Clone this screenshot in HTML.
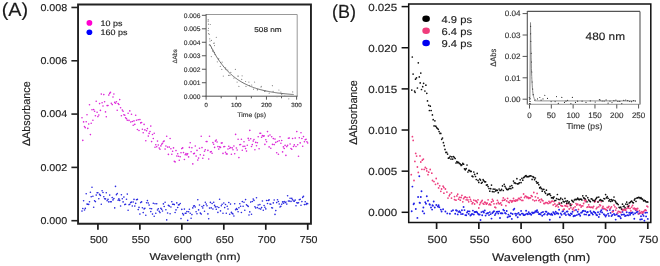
<!DOCTYPE html>
<html><head><meta charset="utf-8"><style>
html,body{margin:0;padding:0;background:#fff;overflow:hidden;width:660px;height:266px;}
svg{display:block;will-change:transform;}
text{font-family:"Liberation Sans", sans-serif;text-rendering:geometricPrecision;}
</style></head><body>
<svg width="660" height="266" viewBox="0 0 660 266">
<rect width="660" height="266" fill="#fff"/>
<text x="1.70" y="15.90" font-size="19.0" fill="#1a1a1a" stroke="#1a1a1a" stroke-width="0.15" textLength="26.40" lengthAdjust="spacingAndGlyphs" >(A)</text>
<path d="M78.05 4.45 H310.95 V223.7 H78.05 Z" fill="none" stroke="#222" stroke-width="1.9"/>
<line x1="71.40" y1="220.70" x2="78.00" y2="220.70" stroke="#222" stroke-width="1.6"/>
<text x="67.30" y="224.00" font-size="9.9" fill="#222" stroke="#222" stroke-width="0.15" text-anchor="end" textLength="26.90" lengthAdjust="spacingAndGlyphs" >0.000</text>
<line x1="71.40" y1="167.39" x2="78.00" y2="167.39" stroke="#222" stroke-width="1.6"/>
<text x="67.30" y="170.69" font-size="9.9" fill="#222" stroke="#222" stroke-width="0.15" text-anchor="end" textLength="26.90" lengthAdjust="spacingAndGlyphs" >0.002</text>
<line x1="71.40" y1="114.08" x2="78.00" y2="114.08" stroke="#222" stroke-width="1.6"/>
<text x="67.30" y="117.38" font-size="9.9" fill="#222" stroke="#222" stroke-width="0.15" text-anchor="end" textLength="26.90" lengthAdjust="spacingAndGlyphs" >0.004</text>
<line x1="71.40" y1="60.77" x2="78.00" y2="60.77" stroke="#222" stroke-width="1.6"/>
<text x="67.30" y="64.07" font-size="9.9" fill="#222" stroke="#222" stroke-width="0.15" text-anchor="end" textLength="26.90" lengthAdjust="spacingAndGlyphs" >0.006</text>
<line x1="71.40" y1="7.46" x2="78.00" y2="7.46" stroke="#222" stroke-width="1.6"/>
<text x="67.30" y="10.76" font-size="9.9" fill="#222" stroke="#222" stroke-width="0.15" text-anchor="end" textLength="26.90" lengthAdjust="spacingAndGlyphs" >0.008</text>
<line x1="97.92" y1="223.70" x2="97.92" y2="229.80" stroke="#1a1a1a" stroke-width="1.7"/>
<text x="98.82" y="243.00" font-size="10.1" fill="#222" stroke="#222" stroke-width="0.15" text-anchor="middle" textLength="17.80" lengthAdjust="spacingAndGlyphs" >500</text>
<line x1="139.88" y1="223.70" x2="139.88" y2="229.80" stroke="#1a1a1a" stroke-width="1.7"/>
<text x="140.78" y="243.00" font-size="10.1" fill="#222" stroke="#222" stroke-width="0.15" text-anchor="middle" textLength="17.80" lengthAdjust="spacingAndGlyphs" >550</text>
<line x1="181.85" y1="223.70" x2="181.85" y2="229.80" stroke="#1a1a1a" stroke-width="1.7"/>
<text x="182.75" y="243.00" font-size="10.1" fill="#222" stroke="#222" stroke-width="0.15" text-anchor="middle" textLength="17.80" lengthAdjust="spacingAndGlyphs" >600</text>
<line x1="223.81" y1="223.70" x2="223.81" y2="229.80" stroke="#1a1a1a" stroke-width="1.7"/>
<text x="224.71" y="243.00" font-size="10.1" fill="#222" stroke="#222" stroke-width="0.15" text-anchor="middle" textLength="17.80" lengthAdjust="spacingAndGlyphs" >650</text>
<line x1="265.78" y1="223.70" x2="265.78" y2="229.80" stroke="#1a1a1a" stroke-width="1.7"/>
<text x="266.68" y="243.00" font-size="10.1" fill="#222" stroke="#222" stroke-width="0.15" text-anchor="middle" textLength="17.80" lengthAdjust="spacingAndGlyphs" >700</text>
<line x1="307.74" y1="223.70" x2="307.74" y2="229.80" stroke="#1a1a1a" stroke-width="1.7"/>
<text x="308.64" y="243.00" font-size="10.1" fill="#222" stroke="#222" stroke-width="0.15" text-anchor="middle" textLength="17.80" lengthAdjust="spacingAndGlyphs" >750</text>
<text x="149.50" y="259.50" font-size="10.0" fill="#222" stroke="#222" stroke-width="0.15" textLength="91.00" lengthAdjust="spacingAndGlyphs" >Wavelength (nm)</text>
<text x="30.30" y="146.10" font-size="11.0" fill="#222" stroke="#222" stroke-width="0.15" textLength="64.80" lengthAdjust="spacingAndGlyphs" transform="rotate(-90 30.30 146.10)" >ΔAbsorbance</text>
<ellipse cx="89.4" cy="22.9" rx="2.9" ry="2.8" fill="#ff00d0"/>
<ellipse cx="89.4" cy="32.3" rx="2.9" ry="2.8" fill="#0000ff"/>
<text x="100.60" y="25.90" font-size="7.9" fill="#222" stroke="#222" stroke-width="0.15" textLength="21.90" lengthAdjust="spacingAndGlyphs" >10 ps</text>
<text x="100.60" y="34.70" font-size="7.9" fill="#222" stroke="#222" stroke-width="0.15" textLength="27.00" lengthAdjust="spacingAndGlyphs" >160 ps</text>
<path d="M82.0 117.7h0M82.8 140.4h0M83.6 121.9h0M84.5 126.6h0M85.3 127.7h0M86.2 121.7h0M87.0 114.8h0M87.8 128.4h0M88.7 124.0h0M89.5 104.7h0M90.4 134.6h0M91.2 123.2h0M92.0 109.8h0M92.9 120.2h0M93.7 109.6h0M94.6 111.2h0M95.4 115.8h0M96.2 101.2h0M97.1 112.3h0M97.9 116.6h0M98.8 115.0h0M99.6 103.6h0M100.4 110.4h0M101.3 94.1h0M102.1 102.8h0M103.0 106.0h0M103.8 94.6h0M104.6 101.7h0M105.5 111.9h0M106.3 116.7h0M107.1 105.6h0M108.0 105.5h0M108.8 95.1h0M109.7 93.4h0M110.5 92.3h0M111.3 103.3h0M112.2 104.6h0M113.0 97.0h0M113.9 94.0h0M114.7 102.4h0M115.5 103.3h0M116.4 101.7h0M117.2 110.2h0M118.1 103.5h0M118.9 104.5h0M119.7 99.6h0M120.6 107.7h0M121.4 115.7h0M122.3 110.0h0M123.1 111.3h0M123.9 114.7h0M124.8 115.2h0M125.6 117.7h0M126.5 118.7h0M127.3 120.2h0M128.1 113.3h0M129.0 120.4h0M129.8 110.9h0M130.7 122.0h0M131.5 114.2h0M132.3 121.5h0M133.2 125.2h0M134.0 120.9h0M134.8 124.4h0M135.7 115.3h0M136.5 120.3h0M137.4 129.5h0M138.2 119.8h0M139.0 130.5h0M139.9 119.6h0M140.7 122.9h0M141.6 122.5h0M142.4 129.2h0M143.2 132.8h0M144.1 124.4h0M144.9 129.9h0M145.8 140.8h0M146.6 130.7h0M147.4 128.6h0M148.3 136.1h0M149.1 133.4h0M150.0 131.5h0M150.8 126.1h0M151.6 141.6h0M152.5 134.5h0M153.3 138.5h0M154.2 133.2h0M155.0 147.3h0M155.8 144.8h0M156.7 146.7h0M157.5 141.1h0M158.3 145.0h0M159.2 148.0h0M160.0 149.3h0M160.9 145.9h0M161.7 144.3h0M162.5 143.2h0M163.4 141.6h0M164.2 141.0h0M165.1 149.1h0M165.9 146.0h0M166.7 136.3h0M167.6 147.1h0M168.4 154.4h0M169.3 147.1h0M170.1 138.5h0M170.9 148.7h0M171.8 154.2h0M172.6 151.2h0M173.5 147.9h0M174.3 161.3h0M175.1 161.9h0M176.0 150.6h0M176.8 156.0h0M177.7 153.8h0M178.5 156.2h0M179.3 160.2h0M180.2 156.7h0M181.0 152.7h0M181.8 148.6h0M182.7 147.9h0M183.5 152.6h0M184.4 159.5h0M185.2 154.8h0M186.0 153.5h0M186.9 154.9h0M187.7 153.8h0M188.6 156.9h0M189.4 147.4h0M190.2 142.7h0M191.1 151.8h0M191.9 147.8h0M192.8 163.9h0M193.6 153.8h0M194.4 153.4h0M195.3 146.0h0M196.1 156.1h0M197.0 150.4h0M197.8 160.1h0M198.6 158.1h0M199.5 148.3h0M200.3 154.7h0M201.2 136.2h0M202.0 147.6h0M202.8 158.3h0M203.7 155.2h0M204.5 151.3h0M205.3 149.7h0M206.2 141.5h0M207.0 141.6h0M207.9 150.4h0M208.7 159.0h0M209.5 136.2h0M210.4 152.0h0M211.2 151.6h0M212.1 153.3h0M212.9 142.6h0M213.7 144.3h0M214.6 147.4h0M215.4 141.1h0M216.3 140.0h0M217.1 142.0h0M217.9 146.6h0M218.8 149.1h0M219.6 146.9h0M220.5 147.4h0M221.3 143.1h0M222.1 142.9h0M223.0 153.4h0M223.8 146.7h0M224.7 146.5h0M225.5 152.2h0M226.3 153.9h0M227.2 154.0h0M228.0 149.0h0M228.8 146.3h0M229.7 148.2h0M230.5 147.5h0M231.4 154.2h0M232.2 147.9h0M233.0 149.8h0M233.9 146.0h0M234.7 153.7h0M235.6 134.4h0M236.4 148.0h0M237.2 150.0h0M238.1 139.2h0M238.9 157.6h0M239.8 144.7h0M240.6 144.5h0M241.4 139.3h0M242.3 150.2h0M243.1 146.4h0M244.0 141.8h0M244.8 146.3h0M245.6 148.6h0M246.5 151.1h0M247.3 145.3h0M248.2 138.4h0M249.0 140.3h0M249.8 130.4h0M250.7 138.7h0M251.5 146.5h0M252.3 144.6h0M253.2 141.1h0M254.0 139.5h0M254.9 149.8h0M255.7 142.4h0M256.5 145.7h0M257.4 142.7h0M258.2 136.7h0M259.1 148.7h0M259.9 133.2h0M260.7 133.3h0M261.6 137.3h0M262.4 135.5h0M263.3 136.3h0M264.1 135.9h0M264.9 144.4h0M265.8 139.7h0M266.6 141.7h0M267.5 131.6h0M268.3 136.1h0M269.1 146.9h0M270.0 135.0h0M270.8 148.3h0M271.7 136.8h0M272.5 144.4h0M273.3 138.6h0M274.2 144.6h0M275.0 139.1h0M275.8 142.4h0M276.7 152.7h0M277.5 141.5h0M278.4 154.3h0M279.2 140.7h0M280.0 136.7h0M280.9 143.2h0M281.7 140.5h0M282.6 151.9h0M283.4 146.9h0M284.2 148.5h0M285.1 145.4h0M285.9 155.4h0M286.8 146.6h0M287.6 145.3h0M288.4 138.3h0M289.3 138.0h0M290.1 144.0h0M291.0 148.5h0M291.8 149.3h0M292.6 138.5h0M293.5 146.5h0M294.3 144.9h0M295.2 138.1h0M296.0 146.5h0M296.8 131.6h0M297.7 144.8h0M298.5 156.2h0M299.3 137.7h0M300.2 142.9h0M301.0 132.7h0M301.9 138.5h0M302.7 146.2h0M303.5 136.6h0M304.4 141.7h0M305.2 139.7h0M306.1 139.2h0M306.9 141.8h0M307.7 143.0h0" stroke="#dc28d8" stroke-width="1.64" stroke-linecap="round" opacity="1.0"/>
<path d="M82.0 211.1h0M82.8 208.5h0M83.6 200.8h0M84.5 210.0h0M85.3 208.4h0M86.2 193.8h0M87.0 204.1h0M87.8 204.2h0M88.7 204.4h0M89.5 201.8h0M90.4 192.2h0M91.2 196.8h0M92.0 187.3h0M92.9 196.3h0M93.7 207.2h0M94.6 200.7h0M95.4 201.6h0M96.2 195.1h0M97.1 192.8h0M97.9 192.7h0M98.8 198.8h0M99.6 194.4h0M100.4 195.4h0M101.3 204.3h0M102.1 190.8h0M103.0 192.5h0M103.8 196.7h0M104.6 198.8h0M105.5 198.9h0M106.3 192.8h0M107.1 200.8h0M108.0 199.4h0M108.8 201.9h0M109.7 195.1h0M110.5 201.7h0M111.3 201.7h0M112.2 197.6h0M113.0 199.9h0M113.9 198.5h0M114.7 207.9h0M115.5 186.4h0M116.4 194.7h0M117.2 193.6h0M118.1 200.2h0M118.9 198.9h0M119.7 200.4h0M120.6 206.0h0M121.4 194.8h0M122.3 198.8h0M123.1 201.9h0M123.9 197.1h0M124.8 204.6h0M125.6 204.3h0M126.5 199.2h0M127.3 194.1h0M128.1 210.2h0M129.0 204.7h0M129.8 204.3h0M130.7 202.6h0M131.5 202.1h0M132.3 206.0h0M133.2 202.0h0M134.0 199.4h0M134.8 206.1h0M135.7 203.4h0M136.5 199.7h0M137.4 199.4h0M138.2 209.6h0M139.0 207.4h0M139.9 214.1h0M140.7 202.6h0M141.6 201.9h0M142.4 207.7h0M143.2 212.6h0M144.1 208.9h0M144.9 208.2h0M145.8 215.2h0M146.6 202.8h0M147.4 200.6h0M148.3 203.0h0M149.1 205.1h0M150.0 208.5h0M150.8 211.6h0M151.6 208.8h0M152.5 214.1h0M153.3 203.2h0M154.2 216.3h0M155.0 203.8h0M155.8 213.3h0M156.7 203.7h0M157.5 210.0h0M158.3 208.8h0M159.2 211.3h0M160.0 212.6h0M160.9 208.4h0M161.7 209.3h0M162.5 211.0h0M163.4 203.9h0M164.2 206.5h0M165.1 202.2h0M165.9 209.7h0M166.7 219.9h0M167.6 213.0h0M168.4 205.4h0M169.3 206.1h0M170.1 213.8h0M170.9 207.0h0M171.8 201.7h0M172.6 204.3h0M173.5 204.2h0M174.3 204.6h0M175.1 212.5h0M176.0 209.9h0M176.8 202.9h0M177.7 207.5h0M178.5 204.9h0M179.3 204.7h0M180.2 203.5h0M181.0 218.6h0M181.8 209.4h0M182.7 213.6h0M183.5 214.9h0M184.4 209.1h0M185.2 213.2h0M186.0 213.2h0M186.9 211.6h0M187.7 220.4h0M188.6 211.7h0M189.4 209.3h0M190.2 213.2h0M191.1 218.3h0M191.9 214.6h0M192.8 207.9h0M193.6 206.1h0M194.4 205.8h0M195.3 207.0h0M196.1 211.7h0M197.0 213.8h0M197.8 199.8h0M198.6 209.9h0M199.5 205.0h0M200.3 213.1h0M201.2 214.1h0M202.0 206.5h0M202.8 208.0h0M203.7 205.6h0M204.5 211.3h0M205.3 202.2h0M206.2 204.1h0M207.0 205.8h0M207.9 213.9h0M208.7 218.8h0M209.5 208.1h0M210.4 202.4h0M211.2 207.9h0M212.1 203.5h0M212.9 209.0h0M213.7 202.2h0M214.6 205.4h0M215.4 206.9h0M216.3 209.2h0M217.1 206.7h0M217.9 212.4h0M218.8 207.5h0M219.6 199.3h0M220.5 210.9h0M221.3 205.8h0M222.1 204.2h0M223.0 213.3h0M223.8 203.0h0M224.7 207.6h0M225.5 204.5h0M226.3 213.3h0M227.2 206.3h0M228.0 209.0h0M228.8 202.5h0M229.7 214.2h0M230.5 204.1h0M231.4 212.4h0M232.2 213.4h0M233.0 214.0h0M233.9 216.0h0M234.7 203.8h0M235.6 209.8h0M236.4 208.5h0M237.2 209.4h0M238.1 211.8h0M238.9 207.7h0M239.8 203.8h0M240.6 206.3h0M241.4 212.5h0M242.3 201.6h0M243.1 206.3h0M244.0 202.2h0M244.8 210.3h0M245.6 199.6h0M246.5 204.7h0M247.3 205.5h0M248.2 206.4h0M249.0 215.0h0M249.8 211.9h0M250.7 202.1h0M251.5 214.2h0M252.3 201.5h0M253.2 199.0h0M254.0 200.4h0M254.9 206.8h0M255.7 208.0h0M256.5 197.7h0M257.4 207.6h0M258.2 205.0h0M259.1 208.6h0M259.9 204.6h0M260.7 209.1h0M261.6 207.6h0M262.4 201.0h0M263.3 210.3h0M264.1 205.5h0M264.9 207.2h0M265.8 208.9h0M266.6 200.5h0M267.5 203.5h0M268.3 200.5h0M269.1 199.9h0M270.0 204.0h0M270.8 204.2h0M271.7 207.8h0M272.5 208.0h0M273.3 202.9h0M274.2 200.0h0M275.0 214.4h0M275.8 210.6h0M276.7 202.6h0M277.5 199.7h0M278.4 201.5h0M279.2 204.0h0M280.0 207.0h0M280.9 206.3h0M281.7 204.3h0M282.6 201.9h0M283.4 203.2h0M284.2 201.5h0M285.1 202.7h0M285.9 202.1h0M286.8 204.1h0M287.6 195.8h0M288.4 201.0h0M289.3 201.1h0M290.1 198.2h0M291.0 201.4h0M291.8 198.4h0M292.6 199.8h0M293.5 201.0h0M294.3 201.2h0M295.2 200.1h0M296.0 205.7h0M296.8 202.7h0M297.7 203.1h0M298.5 202.8h0M299.3 199.8h0M300.2 199.2h0M301.0 205.2h0M301.9 201.6h0M302.7 197.4h0M303.5 196.3h0M304.4 204.6h0M305.2 201.8h0M306.1 204.4h0M306.9 203.2h0M307.7 203.7h0" stroke="#2a2ae0" stroke-width="1.64" stroke-linecap="round" opacity="1.0"/>
<path d="M206.1 14.5 H297.2 V96.2" fill="none" stroke="#999" stroke-width="1"/>
<line x1="206.10" y1="14.00" x2="206.10" y2="96.70" stroke="#555" stroke-width="1"/>
<line x1="205.60" y1="96.20" x2="297.60" y2="96.20" stroke="#555" stroke-width="1"/>
<line x1="201.90" y1="96.20" x2="206.10" y2="96.20" stroke="#555" stroke-width="1"/>
<text x="200.50" y="98.50" font-size="6.6" fill="#333" stroke="#333" stroke-width="0.15" text-anchor="end" textLength="16.80" lengthAdjust="spacingAndGlyphs" >0.000</text>
<line x1="201.90" y1="82.72" x2="206.10" y2="82.72" stroke="#555" stroke-width="1"/>
<text x="200.50" y="85.02" font-size="6.6" fill="#333" stroke="#333" stroke-width="0.15" text-anchor="end" textLength="16.80" lengthAdjust="spacingAndGlyphs" >0.001</text>
<line x1="201.90" y1="69.24" x2="206.10" y2="69.24" stroke="#555" stroke-width="1"/>
<text x="200.50" y="71.54" font-size="6.6" fill="#333" stroke="#333" stroke-width="0.15" text-anchor="end" textLength="16.80" lengthAdjust="spacingAndGlyphs" >0.002</text>
<line x1="201.90" y1="55.76" x2="206.10" y2="55.76" stroke="#555" stroke-width="1"/>
<text x="200.50" y="58.06" font-size="6.6" fill="#333" stroke="#333" stroke-width="0.15" text-anchor="end" textLength="16.80" lengthAdjust="spacingAndGlyphs" >0.003</text>
<line x1="201.90" y1="42.28" x2="206.10" y2="42.28" stroke="#555" stroke-width="1"/>
<text x="200.50" y="44.58" font-size="6.6" fill="#333" stroke="#333" stroke-width="0.15" text-anchor="end" textLength="16.80" lengthAdjust="spacingAndGlyphs" >0.004</text>
<line x1="201.90" y1="28.80" x2="206.10" y2="28.80" stroke="#555" stroke-width="1"/>
<text x="200.50" y="31.10" font-size="6.6" fill="#333" stroke="#333" stroke-width="0.15" text-anchor="end" textLength="16.80" lengthAdjust="spacingAndGlyphs" >0.005</text>
<line x1="201.90" y1="15.32" x2="206.10" y2="15.32" stroke="#555" stroke-width="1"/>
<text x="200.50" y="17.62" font-size="6.6" fill="#333" stroke="#333" stroke-width="0.15" text-anchor="end" textLength="16.80" lengthAdjust="spacingAndGlyphs" >0.006</text>
<line x1="206.10" y1="96.20" x2="206.10" y2="99.70" stroke="#555" stroke-width="1"/>
<text x="206.10" y="107.20" font-size="6.0" fill="#333" stroke="#333" stroke-width="0.15" text-anchor="middle" textLength="3.30" lengthAdjust="spacingAndGlyphs" >0</text>
<line x1="221.19" y1="96.20" x2="221.19" y2="98.30" stroke="#555" stroke-width="1"/>
<line x1="236.27" y1="96.20" x2="236.27" y2="99.70" stroke="#555" stroke-width="1"/>
<text x="236.27" y="107.20" font-size="6.0" fill="#333" stroke="#333" stroke-width="0.15" text-anchor="middle" textLength="10.50" lengthAdjust="spacingAndGlyphs" >100</text>
<line x1="251.35" y1="96.20" x2="251.35" y2="98.30" stroke="#555" stroke-width="1"/>
<line x1="266.44" y1="96.20" x2="266.44" y2="99.70" stroke="#555" stroke-width="1"/>
<text x="266.44" y="107.20" font-size="6.0" fill="#333" stroke="#333" stroke-width="0.15" text-anchor="middle" textLength="10.50" lengthAdjust="spacingAndGlyphs" >200</text>
<line x1="281.52" y1="96.20" x2="281.52" y2="98.30" stroke="#555" stroke-width="1"/>
<line x1="296.61" y1="96.20" x2="296.61" y2="99.70" stroke="#555" stroke-width="1"/>
<text x="296.61" y="107.20" font-size="6.0" fill="#333" stroke="#333" stroke-width="0.15" text-anchor="middle" textLength="10.50" lengthAdjust="spacingAndGlyphs" >300</text>
<text x="237.30" y="116.90" font-size="6.5" fill="#333" stroke="#333" stroke-width="0.15" textLength="28.80" lengthAdjust="spacingAndGlyphs" >Time (ps)</text>
<text x="176.90" y="63.30" font-size="6.3" fill="#333" stroke="#333" stroke-width="0.15" textLength="14.00" lengthAdjust="spacingAndGlyphs" transform="rotate(-90 176.90 63.30)" >ΔAbs</text>
<text x="254.30" y="32.30" font-size="7.1" fill="#222" stroke="#222" stroke-width="0.15" textLength="27.40" lengthAdjust="spacingAndGlyphs" >508 nm</text>
<path d="M208.2 19.7h0M208.2 21.2h0M208.5 24.2h0M210.3 24.5h0M208.5 28.3h0M208.2 30.6h0M208.5 33.6h0M209.3 34.3h0M216.3 37.3h0M209.7 38.8h0M210.0 41.1h0M211.5 40.4h0M209.3 44.9h0M210.3 45.6h0M213.8 43.4h0M214.5 45.6h0M211.5 47.9h0M213.0 50.1h0M214.5 52.4h0M209.8 44.5h0M214.3 43.0h0M212.8 51.3h0M215.0 54.3h0M211.3 56.6h0M218.8 58.8h0M217.3 61.8h0M220.3 66.4h0M221.8 69.4h0M225.6 67.9h0M227.8 70.1h0M235.4 69.4h0M230.8 72.4h0M223.3 76.1h0M228.6 75.4h0M238.4 76.1h0M242.1 75.8h0M237.1 82.1h0M238.9 86.4h0M248.9 82.1h0M254.6 82.1h0M251.7 85.0h0M246.0 86.4h0M261.0 87.1h0M257.4 90.0h0M272.4 85.7h0M278.9 90.0h0M264.6 91.4h0M281.7 94.3h0M218.2 58.8h0M222.1 62.2h0M226.0 69.3h0M229.9 75.3h0M233.9 78.1h0M237.8 76.1h0M241.7 79.4h0M245.6 81.5h0M249.5 85.5h0M253.5 89.2h0M257.4 89.4h0M261.3 86.4h0M265.2 90.9h0M269.2 93.2h0M273.1 91.4h0M277.0 96.7h0M280.9 92.1h0M284.8 96.1h0M288.8 98.8h0M292.7 91.9h0" stroke="#888" stroke-width="1.2" stroke-linecap="round" opacity="1.0"/>
<polyline points="210.3,45.2 211.4,47.3 212.4,49.4 213.5,51.4 214.5,53.3 215.6,55.1 216.6,56.8 217.7,58.5 218.8,60.1 219.8,61.6 220.9,63.0 221.9,64.4 223.0,65.8 224.0,67.1 225.1,68.3 226.1,69.5 227.2,70.6 228.2,71.7 229.3,72.7 230.4,73.7 231.4,74.7 232.5,75.6 233.5,76.4 234.6,77.3 235.6,78.1 236.7,78.8 237.7,79.6 238.8,80.3 239.8,80.9 240.9,81.6 241.9,82.2 243.0,82.8 244.1,83.4 245.1,83.9 246.2,84.4 247.2,84.9 248.3,85.4 249.3,85.9 250.4,86.3 251.4,86.7 252.5,87.1 253.5,87.5 254.6,87.9 255.6,88.2 256.7,88.6 257.8,88.9 258.8,89.2 259.9,89.5 260.9,89.8 262.0,90.0 263.0,90.3 264.1,90.5 265.1,90.8 266.2,91.0 267.2,91.2 268.3,91.4 269.4,91.6 270.4,91.8 271.5,92.0 272.5,92.2 273.6,92.4 274.6,92.5 275.7,92.7 276.7,92.8 277.8,93.0 278.8,93.1 279.9,93.2 280.9,93.4 282.0,93.5 283.1,93.6 284.1,93.7 285.2,93.8 286.2,93.9 287.3,94.0 288.3,94.1 289.4,94.2 290.4,94.3 291.5,94.4 292.5,94.4 293.6,94.5" fill="none" stroke="#555" stroke-width="0.85"/>
<text x="332.00" y="17.80" font-size="19.0" fill="#1a1a1a" stroke="#1a1a1a" stroke-width="0.15" textLength="24.00" lengthAdjust="spacingAndGlyphs" >(B)</text>
<path d="M408.7 4.1 H650.8 V222.4 H408.7 Z" fill="none" stroke="#111" stroke-width="1.5"/>
<line x1="401.60" y1="212.30" x2="408.70" y2="212.30" stroke="#111" stroke-width="1.5"/>
<text x="397.20" y="216.20" font-size="10.3" fill="#222" stroke="#222" stroke-width="0.15" text-anchor="end" textLength="29.00" lengthAdjust="spacingAndGlyphs" >0.000</text>
<line x1="401.60" y1="171.16" x2="408.70" y2="171.16" stroke="#111" stroke-width="1.5"/>
<text x="397.20" y="175.06" font-size="10.3" fill="#222" stroke="#222" stroke-width="0.15" text-anchor="end" textLength="29.00" lengthAdjust="spacingAndGlyphs" >0.005</text>
<line x1="401.60" y1="130.02" x2="408.70" y2="130.02" stroke="#111" stroke-width="1.5"/>
<text x="397.20" y="133.92" font-size="10.3" fill="#222" stroke="#222" stroke-width="0.15" text-anchor="end" textLength="29.00" lengthAdjust="spacingAndGlyphs" >0.010</text>
<line x1="401.60" y1="88.88" x2="408.70" y2="88.88" stroke="#111" stroke-width="1.5"/>
<text x="397.20" y="92.78" font-size="10.3" fill="#222" stroke="#222" stroke-width="0.15" text-anchor="end" textLength="29.00" lengthAdjust="spacingAndGlyphs" >0.015</text>
<line x1="401.60" y1="47.74" x2="408.70" y2="47.74" stroke="#111" stroke-width="1.5"/>
<text x="397.20" y="51.64" font-size="10.3" fill="#222" stroke="#222" stroke-width="0.15" text-anchor="end" textLength="29.00" lengthAdjust="spacingAndGlyphs" >0.020</text>
<line x1="401.60" y1="6.60" x2="408.70" y2="6.60" stroke="#111" stroke-width="1.5"/>
<text x="397.20" y="10.50" font-size="10.3" fill="#222" stroke="#222" stroke-width="0.15" text-anchor="end" textLength="29.00" lengthAdjust="spacingAndGlyphs" >0.025</text>
<line x1="436.60" y1="222.40" x2="436.60" y2="229.00" stroke="#1a1a1a" stroke-width="1.7"/>
<text x="437.40" y="242.90" font-size="10.3" fill="#222" stroke="#222" stroke-width="0.15" text-anchor="middle" textLength="19.60" lengthAdjust="spacingAndGlyphs" >500</text>
<line x1="478.84" y1="222.40" x2="478.84" y2="229.00" stroke="#1a1a1a" stroke-width="1.7"/>
<text x="479.64" y="242.90" font-size="10.3" fill="#222" stroke="#222" stroke-width="0.15" text-anchor="middle" textLength="19.60" lengthAdjust="spacingAndGlyphs" >550</text>
<line x1="521.08" y1="222.40" x2="521.08" y2="229.00" stroke="#1a1a1a" stroke-width="1.7"/>
<text x="521.88" y="242.90" font-size="10.3" fill="#222" stroke="#222" stroke-width="0.15" text-anchor="middle" textLength="19.60" lengthAdjust="spacingAndGlyphs" >600</text>
<line x1="563.32" y1="222.40" x2="563.32" y2="229.00" stroke="#1a1a1a" stroke-width="1.7"/>
<text x="564.12" y="242.90" font-size="10.3" fill="#222" stroke="#222" stroke-width="0.15" text-anchor="middle" textLength="19.60" lengthAdjust="spacingAndGlyphs" >650</text>
<line x1="605.56" y1="222.40" x2="605.56" y2="229.00" stroke="#1a1a1a" stroke-width="1.7"/>
<text x="606.36" y="242.90" font-size="10.3" fill="#222" stroke="#222" stroke-width="0.15" text-anchor="middle" textLength="19.60" lengthAdjust="spacingAndGlyphs" >700</text>
<line x1="647.80" y1="222.40" x2="647.80" y2="229.00" stroke="#1a1a1a" stroke-width="1.7"/>
<text x="648.60" y="242.90" font-size="10.3" fill="#222" stroke="#222" stroke-width="0.15" text-anchor="middle" textLength="19.60" lengthAdjust="spacingAndGlyphs" >750</text>
<text x="492.10" y="261.30" font-size="11.0" fill="#222" stroke="#222" stroke-width="0.15" textLength="98.10" lengthAdjust="spacingAndGlyphs" >Wavelength (nm)</text>
<text x="356.80" y="144.80" font-size="11.2" fill="#222" stroke="#222" stroke-width="0.15" textLength="64.50" lengthAdjust="spacingAndGlyphs" transform="rotate(-90 356.80 144.80)" >ΔAbsorbance</text>
<ellipse cx="426.1" cy="18.7" rx="3.8" ry="3.2" fill="#000"/>
<ellipse cx="426.1" cy="30.8" rx="3.8" ry="3.2" fill="#f03c7c"/>
<ellipse cx="426.1" cy="43.0" rx="3.8" ry="3.2" fill="#0000f0"/>
<text x="441.50" y="22.80" font-size="10.0" fill="#222" stroke="#222" stroke-width="0.15" textLength="30.50" lengthAdjust="spacingAndGlyphs" >4.9 ps</text>
<text x="441.50" y="35.00" font-size="10.0" fill="#222" stroke="#222" stroke-width="0.15" textLength="30.50" lengthAdjust="spacingAndGlyphs" >6.4 ps</text>
<text x="441.50" y="47.20" font-size="10.0" fill="#222" stroke="#222" stroke-width="0.15" textLength="30.50" lengthAdjust="spacingAndGlyphs" >9.4 ps</text>
<path d="M456.0 210.3h0M456.9 210.8h0M457.7 214.4h0M458.6 211.9h0M459.4 211.3h0M460.3 212.2h0M461.1 214.1h0M461.9 210.3h0M462.8 214.0h0M463.6 207.0h0M464.5 210.1h0M465.3 215.1h0M466.2 215.3h0M467.0 212.5h0M467.9 211.2h0M468.7 213.9h0M469.5 211.4h0M470.4 215.5h0M471.2 214.8h0M472.1 214.0h0M472.9 210.6h0M473.8 214.5h0M474.6 212.0h0M475.5 212.0h0M476.3 211.7h0M477.2 212.4h0M478.0 213.7h0M478.8 214.5h0M479.7 214.5h0M480.5 220.0h0M481.4 212.1h0M482.2 215.3h0M483.1 211.5h0M483.9 212.5h0M484.8 210.5h0M485.6 215.6h0M486.4 213.6h0M487.3 213.4h0M488.1 212.9h0M489.0 215.1h0M489.8 212.1h0M490.7 214.1h0M491.5 218.6h0M492.4 213.0h0M493.2 212.0h0M494.0 211.2h0M494.9 215.1h0M495.7 213.6h0M496.6 211.9h0M497.4 211.7h0M498.3 213.6h0M499.1 211.5h0M500.0 218.0h0M500.8 213.2h0M501.6 213.2h0M502.5 213.4h0M503.3 209.8h0M504.2 210.6h0M505.0 212.9h0M505.9 213.6h0M506.7 211.0h0M507.6 217.2h0M508.4 214.6h0M509.3 216.4h0M510.1 216.2h0M510.9 213.2h0M511.8 218.9h0M512.6 214.0h0M513.5 209.8h0M514.3 208.8h0M515.2 213.8h0M516.0 215.6h0M516.9 213.9h0M517.7 217.3h0M518.5 212.9h0M519.4 214.6h0M520.2 214.8h0M521.1 210.9h0M521.9 213.6h0M522.8 213.6h0M523.6 215.0h0M524.5 215.1h0M525.3 214.5h0M526.1 210.7h0M527.0 213.7h0M527.8 214.3h0M528.7 212.1h0M529.5 213.7h0M530.4 213.7h0M531.2 214.7h0M532.1 212.4h0M532.9 213.3h0M533.8 212.8h0M534.6 212.5h0M535.4 211.2h0M536.3 211.8h0M537.1 210.2h0M538.0 212.2h0M538.8 214.1h0M539.7 214.0h0M540.5 214.4h0M541.4 212.6h0M542.2 215.8h0M543.0 212.0h0M543.9 214.6h0M544.7 213.9h0M545.6 211.6h0M546.4 211.7h0M547.3 214.8h0M548.1 213.3h0M549.0 213.8h0M549.8 219.7h0M550.6 214.5h0M551.5 213.6h0M552.3 214.9h0M553.2 212.1h0M554.0 213.0h0M554.9 214.3h0M555.7 211.7h0M556.6 213.4h0M557.4 213.1h0M558.3 213.7h0M559.1 209.8h0M559.9 217.3h0M560.8 213.4h0M561.6 214.7h0M562.5 211.4h0M563.3 210.9h0M564.2 213.7h0M565.0 213.0h0M565.9 215.0h0M566.7 211.6h0M567.5 211.5h0M568.4 214.2h0M569.2 215.0h0M570.1 215.4h0M570.9 213.4h0M571.8 214.0h0M572.6 211.8h0M573.5 216.2h0M574.3 215.8h0M575.1 215.7h0M576.0 210.0h0M576.8 215.1h0M577.7 211.7h0M578.5 214.3h0M579.4 214.1h0M580.2 215.8h0M581.1 212.8h0M581.9 212.4h0M582.8 211.0h0M583.6 210.7h0M584.4 214.4h0M585.3 211.3h0M586.1 214.6h0M587.0 212.4h0M587.8 212.0h0M588.7 215.2h0M589.5 215.0h0M590.4 211.2h0M591.2 212.9h0M592.0 213.2h0M592.9 214.6h0M593.7 211.7h0M594.6 212.4h0M595.4 213.0h0M596.3 214.7h0M597.1 215.2h0M598.0 212.2h0M598.8 217.0h0M599.6 214.2h0M600.5 211.7h0M601.3 210.2h0M602.2 212.5h0M603.0 208.7h0M603.9 214.2h0M604.7 215.1h0M605.6 216.6h0M606.4 215.1h0M607.2 210.6h0M608.1 213.7h0M608.9 215.9h0M609.8 209.9h0M610.6 212.9h0M611.5 216.0h0M612.3 214.9h0M613.2 210.7h0M614.0 213.9h0M614.9 215.1h0M615.7 219.6h0M616.5 214.4h0M617.4 213.5h0M618.2 216.0h0M619.1 216.3h0M619.9 216.6h0M620.8 218.2h0M621.6 214.8h0M622.5 211.9h0M623.3 214.6h0M624.1 214.4h0M625.0 216.1h0M625.8 215.7h0M626.7 212.2h0M627.5 215.1h0M628.4 215.4h0M629.2 212.7h0M630.1 214.8h0M630.9 213.0h0M631.7 213.0h0M632.6 212.4h0M633.4 214.4h0M634.3 218.7h0M635.1 213.2h0M636.0 210.3h0M636.8 212.3h0M637.7 211.6h0M638.5 213.8h0M639.4 213.4h0M640.2 219.5h0M641.0 216.3h0M641.9 219.2h0M642.7 214.3h0M643.6 215.9h0M644.4 220.8h0M645.3 212.8h0M646.1 216.4h0M647.0 212.6h0M647.8 218.9h0M419.3 176.3h0M412.4 186.6h0M421.5 191.2h0M418.1 197.0h0M420.8 197.0h0M426.8 196.2h0M433.7 201.5h0M419.6 202.7h0M425.3 202.3h0M428.0 200.8h0M426.0 203.8h0M429.5 204.2h0M413.6 204.2h0M432.5 205.3h0M436.3 205.0h0M438.6 205.3h0M414.0 203.5h0M415.8 209.0h0M411.7 211.2h0M417.4 217.9h0M420.0 202.9h0M423.4 207.5h0M422.7 211.2h0M424.2 213.4h0M429.9 204.7h0M431.0 207.5h0M432.1 209.6h0M432.9 205.8h0M434.8 207.5h0M437.8 206.5h0M439.3 207.3h0M440.8 209.6h0M441.6 211.5h0M443.1 209.2h0M445.4 211.5h0M447.3 213.4h0M449.9 213.7h0M451.5 211.1h0M453.0 210.3h0M455.2 213.7h0" stroke="#2020e8" stroke-width="1.9" stroke-linecap="round" opacity="1.0"/>
<path d="M456.0 200.2h0M456.9 195.9h0M457.7 194.2h0M458.6 199.2h0M459.4 197.3h0M460.3 200.2h0M461.1 197.5h0M461.9 195.3h0M462.8 201.8h0M463.6 198.7h0M464.5 197.3h0M465.3 197.0h0M466.2 199.8h0M467.0 197.7h0M467.9 200.0h0M468.7 201.8h0M469.5 197.2h0M470.4 199.5h0M471.2 201.3h0M472.1 203.8h0M472.9 202.6h0M473.8 200.1h0M474.6 204.0h0M475.5 200.7h0M476.3 201.2h0M477.2 202.5h0M478.0 199.8h0M478.8 208.0h0M479.7 204.6h0M480.5 202.9h0M481.4 201.5h0M482.2 200.5h0M483.1 203.5h0M483.9 204.2h0M484.8 202.2h0M485.6 202.7h0M486.4 204.2h0M487.3 203.1h0M488.1 199.8h0M489.0 204.7h0M489.8 204.0h0M490.7 204.9h0M491.5 202.0h0M492.4 199.3h0M493.2 201.0h0M494.0 203.8h0M494.9 207.2h0M495.7 207.7h0M496.6 203.7h0M497.4 200.3h0M498.3 202.4h0M499.1 203.8h0M500.0 203.6h0M500.8 202.8h0M501.6 205.0h0M502.5 200.5h0M503.3 197.9h0M504.2 200.2h0M505.0 199.5h0M505.9 205.7h0M506.7 200.9h0M507.6 198.4h0M508.4 202.1h0M509.3 202.6h0M510.1 200.6h0M510.9 200.7h0M511.8 202.1h0M512.6 201.0h0M513.5 198.5h0M514.3 200.7h0M515.2 201.2h0M516.0 199.9h0M516.9 200.7h0M517.7 200.0h0M518.5 198.3h0M519.4 198.3h0M520.2 199.6h0M521.1 197.3h0M521.9 200.4h0M522.8 200.4h0M523.6 194.0h0M524.5 197.6h0M525.3 196.2h0M526.1 196.3h0M527.0 197.7h0M527.8 197.1h0M528.7 198.4h0M529.5 197.9h0M530.4 197.9h0M531.2 195.6h0M532.1 196.4h0M532.9 199.8h0M533.8 192.5h0M534.6 200.8h0M535.4 196.8h0M536.3 200.3h0M537.1 193.4h0M538.0 197.9h0M538.8 200.6h0M539.7 199.8h0M540.5 202.1h0M541.4 199.1h0M542.2 200.4h0M543.0 200.8h0M543.9 203.5h0M544.7 203.6h0M545.6 202.7h0M546.4 202.6h0M547.3 202.8h0M548.1 203.6h0M549.0 201.4h0M549.8 202.9h0M550.6 202.4h0M551.5 201.4h0M552.3 201.1h0M553.2 204.9h0M554.0 201.5h0M554.9 204.0h0M555.7 206.3h0M556.6 205.6h0M557.4 204.7h0M558.3 206.9h0M559.1 202.6h0M559.9 203.3h0M560.8 205.3h0M561.6 205.9h0M562.5 206.2h0M563.3 209.7h0M564.2 209.2h0M565.0 205.7h0M565.9 206.0h0M566.7 204.0h0M567.5 206.5h0M568.4 203.6h0M569.2 209.0h0M570.1 205.6h0M570.9 207.8h0M571.8 204.3h0M572.6 209.4h0M573.5 207.9h0M574.3 210.4h0M575.1 206.8h0M576.0 203.6h0M576.8 205.1h0M577.7 204.2h0M578.5 209.5h0M579.4 205.3h0M580.2 205.0h0M581.1 207.0h0M581.9 205.9h0M582.8 205.9h0M583.6 203.5h0M584.4 200.2h0M585.3 201.7h0M586.1 200.4h0M587.0 207.3h0M587.8 206.9h0M588.7 204.8h0M589.5 207.0h0M590.4 207.3h0M591.2 207.3h0M592.0 207.1h0M592.9 207.8h0M593.7 206.3h0M594.6 202.0h0M595.4 201.0h0M596.3 208.7h0M597.1 207.5h0M598.0 201.6h0M598.8 206.8h0M599.6 204.8h0M600.5 205.5h0M601.3 201.6h0M602.2 208.1h0M603.0 206.5h0M603.9 208.3h0M604.7 208.9h0M605.6 209.3h0M606.4 210.0h0M607.2 207.5h0M608.1 207.5h0M608.9 206.4h0M609.8 209.1h0M610.6 208.1h0M611.5 206.8h0M612.3 211.9h0M613.2 211.4h0M614.0 205.1h0M614.9 206.8h0M615.7 210.1h0M616.5 208.2h0M617.4 213.2h0M618.2 211.3h0M619.1 211.7h0M619.9 212.1h0M620.8 212.5h0M621.6 209.1h0M622.5 210.5h0M623.3 209.4h0M624.1 210.0h0M625.0 209.1h0M625.8 210.3h0M626.7 208.6h0M627.5 206.8h0M628.4 208.0h0M629.2 205.7h0M630.1 208.5h0M630.9 210.9h0M631.7 207.1h0M632.6 205.4h0M633.4 208.7h0M634.3 208.2h0M635.1 209.4h0M636.0 208.6h0M636.8 210.2h0M637.7 208.5h0M638.5 213.8h0M639.4 210.7h0M640.2 212.5h0M641.0 213.1h0M641.9 211.6h0M642.7 213.0h0M643.6 211.9h0M644.4 210.6h0M645.3 210.0h0M646.1 210.5h0M647.0 206.2h0M647.8 206.8h0M412.4 136.7h0M413.2 140.4h0M415.7 153.4h0M416.6 156.1h0M420.0 155.9h0M414.9 161.4h0M420.8 162.0h0M422.3 160.2h0M423.4 159.1h0M417.4 167.0h0M421.9 169.3h0M425.3 167.3h0M426.5 168.6h0M430.2 169.5h0M411.3 174.7h0M414.0 180.5h0M418.3 172.4h0M424.2 169.4h0M426.8 170.9h0M428.7 172.2h0M428.0 174.7h0M431.8 173.2h0M436.2 178.5h0M432.5 180.5h0M434.0 181.6h0M435.5 184.3h0M437.8 183.5h0M439.7 185.8h0M443.1 186.2h0M438.6 187.9h0M441.6 189.0h0M443.9 187.5h0M445.4 189.0h0M440.8 191.3h0M443.9 193.2h0M446.9 192.1h0M449.9 194.3h0M451.5 192.8h0M449.2 195.8h0M448.0 198.1h0M451.5 198.1h0M454.5 196.6h0M454.5 199.6h0" stroke="#ee4080" stroke-width="1.8" stroke-linecap="round" opacity="1.0"/>
<path d="M432.4 114.9h0M433.2 119.7h0M434.1 125.9h0M434.9 120.8h0M435.8 126.2h0M436.6 127.6h0M437.4 128.3h0M438.3 129.3h0M439.1 131.5h0M440.0 133.4h0M440.8 133.4h0M441.7 139.3h0M442.5 138.0h0M443.4 142.7h0M444.2 145.7h0M445.0 149.4h0M445.9 152.4h0M446.7 152.3h0M447.6 154.1h0M448.4 158.2h0M449.3 157.8h0M450.1 156.3h0M451.0 159.1h0M451.8 156.8h0M452.7 159.1h0M453.5 156.5h0M454.3 157.5h0M455.2 158.5h0M456.0 163.0h0M456.9 161.6h0M457.7 162.7h0M458.6 162.4h0M459.4 163.4h0M460.3 164.0h0M461.1 165.4h0M461.9 164.8h0M462.8 163.3h0M463.6 164.2h0M464.5 168.8h0M465.3 169.8h0M466.2 168.7h0M467.0 165.0h0M467.9 172.0h0M468.7 170.3h0M469.5 170.4h0M470.4 171.4h0M471.2 171.4h0M472.1 176.2h0M472.9 176.7h0M473.8 172.0h0M474.6 174.4h0M475.5 176.5h0M476.3 179.5h0M477.2 173.4h0M478.0 180.4h0M478.8 182.4h0M479.7 179.0h0M480.5 180.1h0M481.4 183.2h0M482.2 182.3h0M483.1 179.7h0M483.9 180.8h0M484.8 181.8h0M485.6 181.8h0M486.4 185.1h0M487.3 184.8h0M488.1 186.6h0M489.0 188.5h0M489.8 191.2h0M490.7 188.7h0M491.5 185.1h0M492.4 191.6h0M493.2 189.1h0M494.0 191.8h0M494.9 189.2h0M495.7 190.9h0M496.6 190.2h0M497.4 190.3h0M498.3 192.7h0M499.1 189.0h0M500.0 190.5h0M500.8 190.5h0M501.6 189.3h0M502.5 185.9h0M503.3 190.5h0M504.2 184.3h0M505.0 186.4h0M505.9 188.0h0M506.7 189.3h0M507.6 189.7h0M508.4 189.3h0M509.3 188.4h0M510.1 186.3h0M510.9 188.7h0M511.8 185.6h0M512.6 187.7h0M513.5 181.1h0M514.3 182.9h0M515.2 183.0h0M516.0 183.5h0M516.9 178.7h0M517.7 183.9h0M518.5 183.7h0M519.4 182.8h0M520.2 179.8h0M521.1 182.6h0M521.9 178.3h0M522.8 180.2h0M523.6 177.7h0M524.5 177.0h0M525.3 176.1h0M526.1 175.6h0M527.0 176.8h0M527.8 176.6h0M528.7 176.7h0M529.5 176.1h0M530.4 175.9h0M531.2 176.0h0M532.1 179.4h0M532.9 176.7h0M533.8 177.4h0M534.6 179.7h0M535.4 178.0h0M536.3 181.6h0M537.1 183.2h0M538.0 182.7h0M538.8 184.7h0M539.7 187.9h0M540.5 187.2h0M541.4 188.7h0M542.2 191.2h0M543.0 189.3h0M543.9 189.3h0M544.7 191.8h0M545.6 193.3h0M546.4 190.2h0M547.3 195.0h0M548.1 194.0h0M549.0 194.3h0M549.8 193.9h0M550.6 195.5h0M551.5 197.8h0M552.3 197.5h0M553.2 198.4h0M554.0 196.9h0M554.9 200.6h0M555.7 200.5h0M556.6 198.6h0M557.4 194.5h0M558.3 199.3h0M559.1 204.0h0M559.9 199.6h0M560.8 198.2h0M561.6 202.9h0M562.5 199.3h0M563.3 201.3h0M564.2 201.9h0M565.0 198.4h0M565.9 201.2h0M566.7 203.2h0M567.5 200.9h0M568.4 202.8h0M569.2 201.9h0M570.1 203.9h0M570.9 205.5h0M571.8 200.3h0M572.6 201.3h0M573.5 202.0h0M574.3 200.0h0M575.1 199.3h0M576.0 199.7h0M576.8 199.3h0M577.7 198.2h0M578.5 199.4h0M579.4 199.7h0M580.2 199.2h0M581.1 199.1h0M581.9 199.9h0M582.8 195.8h0M583.6 197.8h0M584.4 198.3h0M585.3 199.0h0M586.1 195.8h0M587.0 201.8h0M587.8 197.7h0M588.7 199.9h0M589.5 201.0h0M590.4 201.7h0M591.2 198.8h0M592.0 199.0h0M592.9 200.4h0M593.7 200.6h0M594.6 201.1h0M595.4 199.5h0M596.3 198.4h0M597.1 197.3h0M598.0 202.1h0M598.8 197.1h0M599.6 200.4h0M600.5 199.6h0M601.3 200.3h0M602.2 200.6h0M603.0 201.1h0M603.9 198.5h0M604.7 198.8h0M605.6 194.6h0M606.4 197.8h0M607.2 196.7h0M608.1 198.3h0M608.9 200.9h0M609.8 199.6h0M610.6 201.5h0M611.5 199.7h0M612.3 201.0h0M613.2 200.0h0M614.0 197.0h0M614.9 200.6h0M615.7 201.9h0M616.5 203.3h0M617.4 203.7h0M618.2 204.6h0M619.1 207.3h0M619.9 207.8h0M620.8 207.2h0M621.6 209.0h0M622.5 204.2h0M623.3 206.5h0M624.1 206.1h0M625.0 207.7h0M625.8 204.1h0M626.7 202.1h0M627.5 204.4h0M628.4 206.4h0M629.2 203.0h0M630.1 202.4h0M630.9 201.5h0M631.7 201.2h0M632.6 202.4h0M633.4 202.8h0M634.3 200.1h0M635.1 198.7h0M636.0 201.3h0M636.8 198.1h0M637.7 197.9h0M638.5 197.3h0M639.4 197.5h0M640.2 198.4h0M641.0 197.7h0M641.9 198.9h0M642.7 199.3h0M643.6 200.8h0M644.4 200.3h0M645.3 200.9h0M646.1 201.8h0M647.0 201.8h0M647.8 202.1h0M412.3 57.0h0M418.3 62.8h0M413.1 74.1h0M420.8 73.1h0M416.5 77.8h0M415.5 79.2h0M419.3 76.9h0M420.2 82.9h0M423.6 83.3h0M425.9 85.2h0M422.7 86.7h0M417.4 88.0h0M411.8 90.1h0M414.6 91.0h0M415.1 92.3h0M421.5 89.5h0M424.9 91.0h0M426.8 93.3h0M427.5 100.9h0M428.7 105.3h0M430.3 106.2h0M429.4 110.5h0M431.2 110.5h0" stroke="#111" stroke-width="1.7" stroke-linecap="round" opacity="1.0"/>
<line x1="527.30" y1="11.40" x2="640.00" y2="11.40" stroke="#555" stroke-width="1.1"/>
<line x1="640.00" y1="11.40" x2="640.00" y2="104.40" stroke="#555" stroke-width="1.1"/>
<line x1="527.30" y1="11.00" x2="527.30" y2="104.60" stroke="#555" stroke-width="1.1"/>
<line x1="527.30" y1="104.40" x2="640.00" y2="104.40" stroke="#aaa" stroke-width="1.1"/>
<line x1="522.60" y1="99.20" x2="527.30" y2="99.20" stroke="#555" stroke-width="1"/>
<text x="520.50" y="102.00" font-size="7.9" fill="#333" stroke="#333" stroke-width="0.15" text-anchor="end" textLength="15.80" lengthAdjust="spacingAndGlyphs" >0.00</text>
<line x1="522.60" y1="77.80" x2="527.30" y2="77.80" stroke="#555" stroke-width="1"/>
<text x="520.50" y="80.60" font-size="7.9" fill="#333" stroke="#333" stroke-width="0.15" text-anchor="end" textLength="15.80" lengthAdjust="spacingAndGlyphs" >0.01</text>
<line x1="522.60" y1="56.40" x2="527.30" y2="56.40" stroke="#555" stroke-width="1"/>
<text x="520.50" y="59.20" font-size="7.9" fill="#333" stroke="#333" stroke-width="0.15" text-anchor="end" textLength="15.80" lengthAdjust="spacingAndGlyphs" >0.02</text>
<line x1="522.60" y1="35.00" x2="527.30" y2="35.00" stroke="#555" stroke-width="1"/>
<text x="520.50" y="37.80" font-size="7.9" fill="#333" stroke="#333" stroke-width="0.15" text-anchor="end" textLength="15.80" lengthAdjust="spacingAndGlyphs" >0.03</text>
<line x1="522.60" y1="13.60" x2="527.30" y2="13.60" stroke="#555" stroke-width="1"/>
<text x="520.50" y="16.40" font-size="7.9" fill="#333" stroke="#333" stroke-width="0.15" text-anchor="end" textLength="15.80" lengthAdjust="spacingAndGlyphs" >0.04</text>
<line x1="529.50" y1="104.40" x2="529.50" y2="108.50" stroke="#555" stroke-width="1"/>
<text x="529.50" y="117.50" font-size="7.9" fill="#333" stroke="#333" stroke-width="0.15" text-anchor="middle" textLength="4.40" lengthAdjust="spacingAndGlyphs" >0</text>
<line x1="551.32" y1="104.40" x2="551.32" y2="108.50" stroke="#555" stroke-width="1"/>
<text x="551.32" y="117.50" font-size="7.9" fill="#333" stroke="#333" stroke-width="0.15" text-anchor="middle" textLength="9.00" lengthAdjust="spacingAndGlyphs" >50</text>
<line x1="573.14" y1="104.40" x2="573.14" y2="108.50" stroke="#555" stroke-width="1"/>
<text x="573.14" y="117.50" font-size="7.9" fill="#333" stroke="#333" stroke-width="0.15" text-anchor="middle" textLength="13.40" lengthAdjust="spacingAndGlyphs" >100</text>
<line x1="594.96" y1="104.40" x2="594.96" y2="108.50" stroke="#555" stroke-width="1"/>
<text x="594.96" y="117.50" font-size="7.9" fill="#333" stroke="#333" stroke-width="0.15" text-anchor="middle" textLength="13.40" lengthAdjust="spacingAndGlyphs" >150</text>
<line x1="616.78" y1="104.40" x2="616.78" y2="108.50" stroke="#555" stroke-width="1"/>
<text x="616.78" y="117.50" font-size="7.9" fill="#333" stroke="#333" stroke-width="0.15" text-anchor="middle" textLength="13.40" lengthAdjust="spacingAndGlyphs" >200</text>
<line x1="638.60" y1="104.40" x2="638.60" y2="108.50" stroke="#555" stroke-width="1"/>
<text x="638.60" y="117.50" font-size="7.9" fill="#333" stroke="#333" stroke-width="0.15" text-anchor="middle" textLength="13.40" lengthAdjust="spacingAndGlyphs" >250</text>
<text x="566.40" y="128.90" font-size="8.3" fill="#333" stroke="#333" stroke-width="0.15" textLength="35.90" lengthAdjust="spacingAndGlyphs" >Time (ps)</text>
<text x="496.20" y="66.70" font-size="8.0" fill="#333" stroke="#333" stroke-width="0.15" textLength="17.90" lengthAdjust="spacingAndGlyphs" transform="rotate(-90 496.20 66.70)" >ΔAbs</text>
<text x="585.60" y="39.60" font-size="10.8" fill="#222" stroke="#222" stroke-width="0.15" textLength="39.40" lengthAdjust="spacingAndGlyphs" >480 nm</text>
<polyline points="529.85,99.20 530.50,22.59 530.50,22.59 530.66,33.21 530.81,42.38 530.96,50.31 531.12,57.16 531.27,63.07 531.42,68.19 531.57,72.61 531.73,76.43 531.88,79.72 532.03,82.58 532.19,85.04 532.34,87.17 532.49,89.01 532.65,90.60 532.80,91.97 532.95,93.16 533.10,94.18 533.26,95.07 533.41,95.83 533.56,96.49 533.72,97.06 533.87,97.56 534.02,97.99 534.18,98.35 534.33,98.67 534.48,98.95 534.64,99.19 534.79,99.39 534.94,99.57 535.09,99.72 535.25,99.86 535.40,99.97 535.55,100.07 535.71,100.15 535.86,100.23 536.01,100.29 536.17,100.35 536.32,100.39 536.47,100.44 536.62,100.47 536.78,100.50 536.93,100.53 537.08,100.55 537.24,100.57 537.39,100.59 537.54,100.60 537.70,100.62 537.85,100.63 538.00,100.64 538.15,100.65 538.31,100.65 538.46,100.66 538.61,100.66 538.77,100.67 538.92,100.67 539.07,100.68 539.23,100.68 539.38,100.68 539.53,100.68 539.68,100.69 539.84,100.69 539.99,100.69 540.14,100.69 540.30,100.69 540.45,100.69 540.60,100.69 540.76,100.69 540.91,100.69 541.06,100.69 541.21,100.70 541.37,100.70 541.52,100.70 541.67,100.70 541.83,100.70 541.98,100.70 542.13,100.70 542.29,100.70 542.44,100.70 542.59,100.70 542.59,100.70 547.48,100.70 552.38,100.70 557.27,100.70 562.16,100.70 567.05,100.70 571.95,100.70 576.84,100.70 581.73,100.70 586.62,100.70 591.51,100.70 596.41,100.70 601.30,100.70 606.19,100.70 611.08,100.70 615.98,100.70 620.87,100.70 625.76,100.70 630.65,100.70 635.55,100.70" fill="none" stroke="#888" stroke-width="1.0"/>
<polyline points="534.74,100.8 635.55,100.8" fill="none" stroke="#bbb" stroke-width="1.4"/>
<path d="M530.6 26.3h0M530.6 33.8h0M530.8 41.3h0M531.2 53.3h0M531.5 62.0h0M531.8 72.0h0M532.2 82.0h0M532.7 89.0h0M533.2 94.7h0M529.3 97.5h0M529.8 99.5h0M530.2 101.5h0M529.5 103.5h0M530.5 103.8h0M530.0 98.5h0M529.6 101.0h0M534.8 100.2h0M537.5 98.9h0M539.8 97.5h0M541.1 100.2h0M543.0 98.9h0M544.8 95.3h0M547.5 98.4h0M551.1 101.6h0M555.1 101.6h0M556.5 96.6h0M558.3 103.4h0M561.8 97.4h0M572.4 97.4h0M564.5 102.4h0M566.0 101.2h0M567.6 100.3h0M570.9 103.6h0M575.5 102.4h0M577.6 101.2h0M582.1 101.2h0M586.0 102.4h0M590.3 100.9h0M595.2 102.1h0M599.4 99.7h0M600.2 100.1h0M602.2 101.0h0M604.1 101.1h0M606.1 99.9h0M608.1 103.2h0M610.0 101.1h0M612.0 102.6h0M613.9 100.7h0M615.9 100.1h0M617.9 101.4h0M619.8 101.4h0M621.8 103.6h0M623.8 100.4h0M625.7 100.0h0M627.7 100.7h0M629.7 101.5h0M631.6 101.7h0M633.6 100.6h0M635.5 101.0h0" stroke="#333" stroke-width="1.2" stroke-linecap="round" opacity="1.0"/>
</svg></body></html>
